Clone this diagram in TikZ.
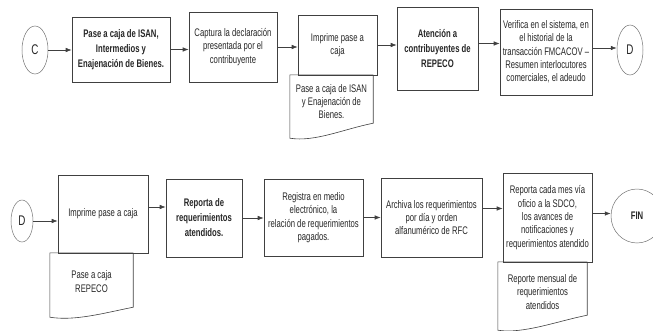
\documentclass[tikz,border=0pt]{standalone}
\usepackage{fontspec}
\setmainfont{Liberation Sans}[FakeStretch=0.7]
\usetikzlibrary{shapes.geometric,arrows.meta}

\tikzset{
  proc/.style 2 args={draw=black!75, line width=0.6pt, align=center,
    inner sep=1pt, minimum width=#1, minimum height=#2},
  term/.style 2 args={draw=black!55, line width=0.5pt, ellipse, inner sep=0pt,
    minimum width=#1, minimum height=#2, font=\fontsize{14}{16}\selectfont},
  doc/.style 2 args={align=center, inner sep=1pt,
    minimum width=#1, minimum height=#2},
  docline/.style={draw=black!75, line width=0.6pt},
}

% wavy outline of a document node: name, drop at left, rise at right
\newcommand{\docedge}[3]{%
  \draw[docline] (#1.north east) -- (#1.north west) -- ([yshift=-#2]#1.south west)
    .. controls +(25pt,-4pt) and +(-30pt,-6pt) .. ([yshift=#3]#1.south east)
    -- (#1.north east);}

\begin{document}
\begin{tikzpicture}[x=1pt, y=-1pt,
    every node/.style={text=black!85, font=\fontsize{11}{13.3}\selectfont}]
  \useasboundingbox (0,0) rectangle (653,330);
  % first row
  \draw
    (35,50) node[term={26pt}{48pt}] (c){C}
    (121,49.5) node[proc={98pt}{65pt}, font=\fontsize{11}{15}\selectfont\bfseries] (b1)
      {Pase a caja de ISAN,\\Intermedios y\\Enajenación de Bienes.}
    (233,47) node[proc={88pt}{70pt}] (b2)
      {Captura la declaración\\presentada por el\\contribuyente}
    (337.5,45) node[proc={79pt}{60pt}] (b3){Imprime pase a\\caja}
    (331.5,101.5) node[doc={83pt}{53pt}] (p1)
      {Pase a caja de ISAN\\y Enajenación de\\Bienes.}
    (437.5,48.5) node[proc={81pt}{83pt}, font=\fontsize{11}{15}\selectfont\bfseries] (b4)
      {Atención a\\contribuyentes de\\REPECO}
    (546,52) node[proc={92pt}{86pt}] (b5)
      {Verifica en el sistema, en\\el historial de la\\transacción FMCACOV --\\Resumen interlocutores\\comerciales, el adeudo}
    (630,50) node[term={26pt}{50pt}] (d){D};
  \docedge{p1}{10pt}{5pt}
  % second row
  \draw
    (22,221) node[term={22pt}{42pt}] (d2){D}
    (103,214) node[proc={90pt}{78pt}] (e1){Imprime pase a caja}
    (91.5,281.5) node[doc={83pt}{57pt}] (p2){Pase a caja\\REPECO}
    (204,218) node[proc={76pt}{78pt}, font=\fontsize{11}{15}\selectfont\bfseries] (e2)
      {Reporta de\\requerimientos\\atendidos.}
    (313.5,217.5) node[proc={99pt}{77pt}] (e3)
      {Registra en medio\\electrónico, la\\relación de requerimientos\\pagados.}
    (431.5,217.5) node[proc={101pt}{79pt}] (e4)
      {Archiva los requerimientos\\por día y orden\\alfanumérico de RFC}
    (547.5,217.5) node[proc={89pt}{89pt}] (e5)
      {Reporta cada mes vía\\oficio a la SDCO,\\los avances de\\notificaciones y\\requerimientos atendido}
    (542.5,292) node[doc={89pt}{60pt}] (p3)
      {Reporte mensual de\\requerimientos\\atendidos}
    (637,216) node[term={52pt}{54pt}, font=\fontsize{11}{13}\selectfont\bfseries] (fin){FIN};
  \docedge{p2}{7pt}{3pt}
  \docedge{p3}{8pt}{7pt}
  \begin{scope}[-{Latex[length=6pt,width=4.5pt]}, draw=black!75, line width=0.6pt]
    \draw (c) -- (c -| b1.west);
    \draw (b1) -- (b1 -| b2.west);
    \draw (b2) -- (b2 -| b3.west);
    \draw (b3) -- (b3 -| b4.west);
    \draw ([yshift=5pt]b4.east) -- ([yshift=5pt]b4.east -| b5.west);
    \draw ([yshift=4pt]b5.east) -- ([yshift=4pt]b5.east -| d.west);
    \draw (d2) -- (d2 -| e1.west);
    \draw ([yshift=7pt]e1.east) -- ([yshift=7pt]e1.east -| e2.west);
    \draw (e2) -- (e2 -| e3.west);
    \draw (e3) -- (e3 -| e4.west);
    \draw ([yshift=9pt]e4.east) -- ([yshift=9pt]e4.east -| e5.west);
    \draw ([yshift=4pt]e5.east) -- ([yshift=4pt]e5.east -| fin.west);
  \end{scope}
\end{tikzpicture}
\end{document}
